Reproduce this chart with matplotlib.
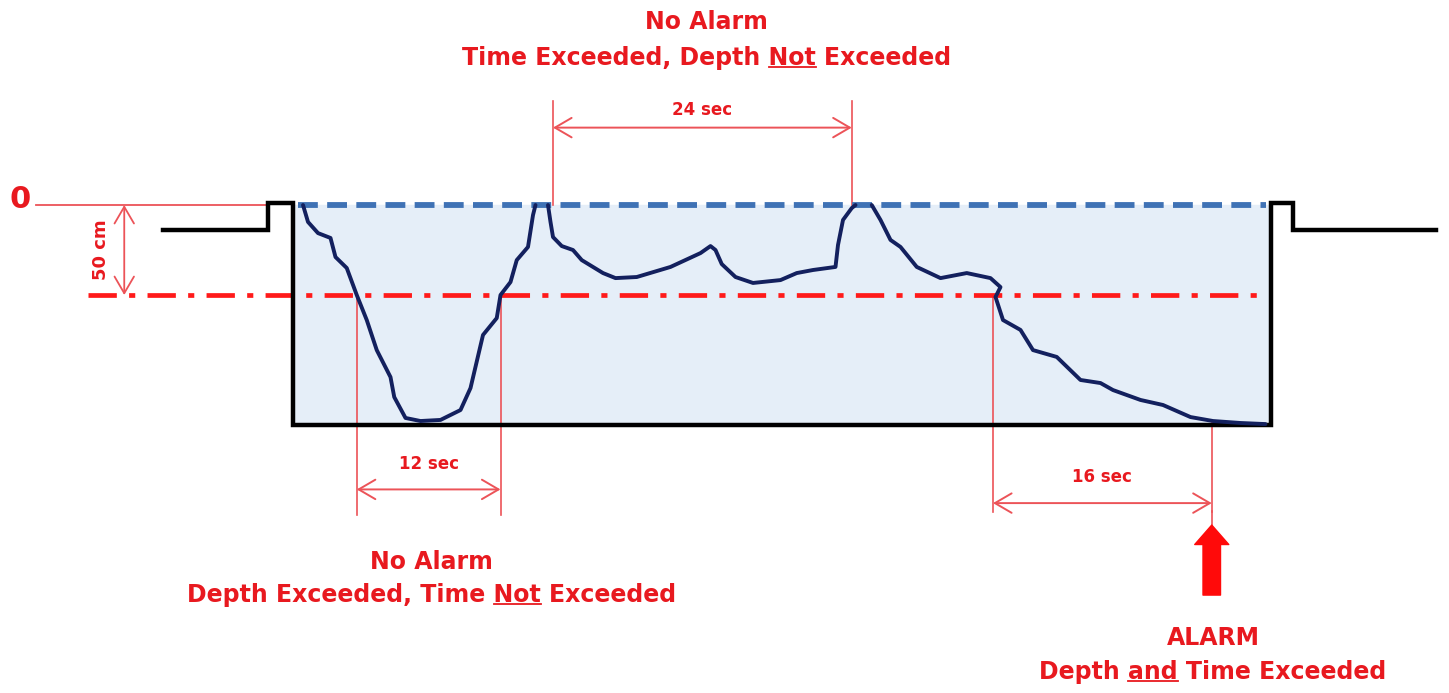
import numpy as np
import matplotlib
matplotlib.use('Agg')
import matplotlib.pyplot as plt
from matplotlib.patches import Rectangle

# depth profile of the three dives: time (s) vs depth below surface (cm)
dive1_t = [0.8, 1.2, 2.0, 3.0, 3.4, 4.3, 5.1, 5.9, 6.7, 7.8, 8.1, 9.0, 10.2, 11.8,
           13.4, 14.2, 15.2, 16.3, 16.6, 17.4, 17.9, 18.8, 19.2, 19.4]
dive1_d = [0, 9.4, 15.6, 18.3, 28.9, 35.0, 50, 63.9, 80.6, 95.6, 106.7, 118.3, 120, 119.4,
           113.9, 101.7, 72.2, 62.8, 50, 42.8, 30.6, 23.3, 5.6, 0]

dive2_t = [20.4, 20.6, 20.8, 21.5, 22.4, 23.1, 24.8, 25.8, 27.5, 30.2, 32.6, 33.4, 33.8,
           34.3, 35.4, 36.8, 39.0, 40.3, 41.6, 43.4, 43.6, 44.0, 44.7, 45.0]
dive2_d = [0, 9.4, 17.8, 22.8, 25, 30.6, 37.8, 40.6, 40, 34.4, 26.7, 22.8, 25,
           32.8, 40, 43.3, 41.7, 37.8, 36.1, 34.4, 22.2, 8.3, 1.7, 0]

dive3_t = [46.3, 47.0, 47.8, 48.6, 49.9, 51.8, 53.9, 55.8, 56.6, 56.2, 56.8, 58.2, 59.2,
           61.1, 63.0, 64.6, 65.6, 67.8, 69.6, 71.8, 73.6, 75.8, 77.8]
dive3_d = [0, 8.3, 19.4, 23.3, 34.4, 40.6, 37.8, 40.6, 45.6, 51.1, 63.9, 69.4, 80.6,
           84.4, 97.2, 98.9, 102.8, 108.3, 111.1, 117.8, 120, 121.1, 121.7]

pool_len = 78.2      # s
pool_depth = 122.2   # cm
ground = 14          # cm
threshold = 50       # cm

# interval markers (start, end) in seconds
int12 = (5.1, 16.6)
int24 = (20.8, 44.7)
int16 = (56.0, 73.5)

RED = '#e8191f'
DIM = '#ec5358'
NAVY = '#13205e'
FONT = 'DejaVu Sans'

fig = plt.figure(figsize=(14.49, 6.93), dpi=100)
ax = fig.add_axes([0, 0, 1, 1])
ax.set_xlim(-23.44, 92.48)
ax.set_ylim(271.1, -113.9)
ax.axis('off')

# pool water + walls
ax.add_patch(Rectangle((0, 0), pool_len, pool_depth, color='#e5eef8', zorder=0))
ax.plot([-10.4, -2.0, -2.0, 0, 0, pool_len, pool_len, 80.0, 80.0, 91.4],
        [ground, ground, -1, -1, pool_depth, pool_depth, -1, -1, ground, ground],
        color='black', lw=3.2, solid_joinstyle='miter', zorder=3)

# water surface and threshold
ax.plot([0.4, pool_len - 0.4], [0, 0], color='#3f72b5', lw=4.2,
        linestyle=(0, (3.4, 1.6)), zorder=2)
ax.plot([-16.4, pool_len], [threshold, threshold], color='#ff1a1a', lw=3.4,
        linestyle=(0, (6.0, 2.6, 1.3, 2.6)), zorder=2)
ax.plot([-20.6, -2.0], [0, 0], color=DIM, lw=1.3, zorder=1)

# dives
for t, d in [(dive1_t, dive1_d), (dive2_t, dive2_d), (dive3_t, dive3_d)]:
    ax.plot(t, d, color=NAVY, lw=2.8, solid_joinstyle='round', solid_capstyle='round', zorder=4)

ax.text(-21.8, -3, '0', color=RED, fontsize=22, fontweight='bold', family=FONT,
        ha='center', va='center')
ax.annotate('', xy=(-13.5, threshold), xytext=(-13.5, 0),
            arrowprops=dict(arrowstyle='<->,head_length=0.6,head_width=0.35',
                            color=DIM, lw=1.3, mutation_scale=20, shrinkA=0, shrinkB=0))
ax.text(-15.4, 25, '50 cm', color=RED, fontsize=13, fontweight='bold', family=FONT,
        rotation=90, ha='center', va='center')


def dimension(t0, t1, d_top0, d_top1, d_bot, d_arrow, d_label, label):
    ax.plot([t0, t0], [d_top0, d_bot], color=DIM, lw=1.2, zorder=1)
    ax.plot([t1, t1], [d_top1, d_bot], color=DIM, lw=1.2, zorder=1)
    ax.annotate('', xy=(t1, d_arrow), xytext=(t0, d_arrow),
                arrowprops=dict(arrowstyle='<->,head_length=0.6,head_width=0.35',
                                color=DIM, lw=1.4, mutation_scale=20, shrinkA=0, shrinkB=0))
    ax.text((t0 + t1) / 2, d_label, label, color=RED, fontsize=12, fontweight='bold',
            family=FONT, ha='center', va='center')


dimension(int12[0], int12[1], threshold, threshold, 172, 158, 144, '12 sec')
dimension(int24[0], int24[1], 0, 0, -58, -43, -53, '24 sec')
dimension(int16[0], int16[1], threshold, 120, 170.6, 165.6, 151, '16 sec')
ax.plot([int16[1], int16[1]], [170, 180], color=DIM, lw=1.2)

# alarm arrow
ax.annotate('', xy=(int16[1], 177.8), xytext=(int16[1], 216.7),
            arrowprops=dict(arrowstyle='simple,head_length=1.0,head_width=1.75,tail_width=0.9',
                            color='#ff0a0a', mutation_scale=14, shrinkA=0, shrinkB=0))

renderer = fig.canvas.get_renderer()
BIG = dict(color=RED, fontsize=17, fontweight='bold', family=FONT)


def label_underlined(x, y, text, word):
    txt = ax.text(x, y, text, ha='center', va='center', **BIG)
    bb = txt.get_window_extent(renderer)
    idx = text.index(word)
    tmp = ax.text(0, 0, text[:idx + len(word)], **BIG)
    w_pre = tmp.get_window_extent(renderer).width
    tmp.set_text(word)
    w_word = tmp.get_window_extent(renderer).width
    tmp.remove()
    x_end = bb.x0 + w_pre
    inv = ax.transData.inverted()
    p0 = inv.transform((x_end - w_word, bb.y0 + 3))
    p1 = inv.transform((x_end, bb.y0 + 3))
    ax.plot([p0[0], p1[0]], [p0[1], p1[1]], color=RED, lw=1.3)


ax.text(33.1, -101.7, 'No Alarm', ha='center', va='center', **BIG)
label_underlined(33.1, -81.7, 'Time Exceeded, Depth Not Exceeded', 'Not')

ax.text(11.1, 198.3, 'No Alarm', ha='center', va='center', **BIG)
label_underlined(11.1, 216.7, 'Depth Exceeded, Time Not Exceeded', 'Not')

ax.text(73.6, 240.6, 'ALARM', ha='center', va='center', **BIG)
label_underlined(73.6, 259.4, 'Depth and Time Exceeded', 'and')

fig.savefig('out.png', dpi=100)
